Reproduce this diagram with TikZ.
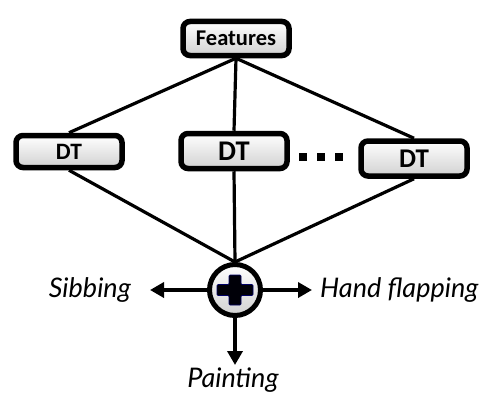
\documentclass[tikz,border=0pt]{standalone}
\usepackage{fontspec}
\setmainfont{Carlito}
\newfontfamily\labelfont{Lato}
\usetikzlibrary{arrows.meta,calc}
\tikzset{
  box/.style={draw=black, line width=5.5pt, rounded corners=7pt,
    top color=white, bottom color=black!18, inner sep=0pt},
  link/.style={line width=3.2pt},
  outarrow/.style={line width=3.6pt, -{Triangle[length=14pt,width=15pt]}},
  lab/.style={font=\labelfont\itshape\fontsize{27}{27}\selectfont, inner sep=0pt},
  dot/.style={fill=black, minimum size=8.5pt, inner sep=0pt},
}
\begin{document}
\begin{tikzpicture}[x=1pt,y=-1pt]
  \useasboundingbox (0,0) rectangle (481,396);
  % boxes
  \node[box, minimum width=106pt, minimum height=34pt, font=\bfseries\fontsize{22.5}{22.5}\selectfont] (feat) at (236,38.5) {Features};
  \node[box, minimum width=106pt, minimum height=32pt, font=\bfseries\fontsize{23.5}{23.5}\selectfont] (dt1) at (69,151.5) {DT};
  \node[box, minimum width=106pt, minimum height=35pt, font=\bfseries\fontsize{28.5}{28.5}\selectfont] (dt2) at (234,151) {DT};
  \node[box, minimum width=106pt, minimum height=35pt, font=\bfseries\fontsize{27}{27}\selectfont] (dt3) at (414,158.5) {DT};
  % ellipsis squares
  \node[dot] (d1) at (303,157) {};
  \node[dot] (d2) at (321,157) {};
  \node[dot] (d3) at (339,157) {};
  % combining node with a plus sign
  \node[circle, draw=black, line width=5pt, minimum size=51pt, inner sep=0pt,
        top color=white, bottom color=black!18] (sum) at (235,290) {};
  \filldraw[fill=black!97!blue, draw=blue!40!black, line width=0.6pt, rounded corners=1pt]
    ($(sum)+(-18,-5.5)$) -- ($(sum)+(-6,-5.5)$) -- ($(sum)+(-6,-15)$) -- ($(sum)+(6,-15)$)
    -- ($(sum)+(6,-5.5)$) -- ($(sum)+(18,-5.5)$) -- ($(sum)+(18,5.5)$) -- ($(sum)+(6,5.5)$)
    -- ($(sum)+(6,15)$) -- ($(sum)+(-6,15)$) -- ($(sum)+(-6,5.5)$) -- ($(sum)+(-18,5.5)$) -- cycle;
  % connectors
  \draw[link] (feat.south) -- (dt1.north);
  \draw[link] (feat.south) -- (dt2.north);
  \draw[link] (feat.south) -- (dt3.north);
  \draw[link] (dt1.south) -- (sum.north);
  \draw[link] (dt2.south) -- (sum.north);
  \draw[link] (dt3.south) -- (sum.north);
  % outputs
  \coordinate (pl) at (150,290);
  \coordinate (pr) at (312,290);
  \coordinate (pd) at (235,365);
  \draw[outarrow] (sum.west) -- (pl);
  \draw[outarrow] (sum.east) -- (pr);
  \draw[outarrow] (sum.south) -- (pd);
  \node[lab, anchor=base east] (sib) at (131,297) {Sibbing};
  \node[lab, anchor=base west] (hand) at (320,297) {Hand flapping};
  \node[lab, anchor=base] (paint) at (233,387) {Painting};
\end{tikzpicture}
\end{document}
